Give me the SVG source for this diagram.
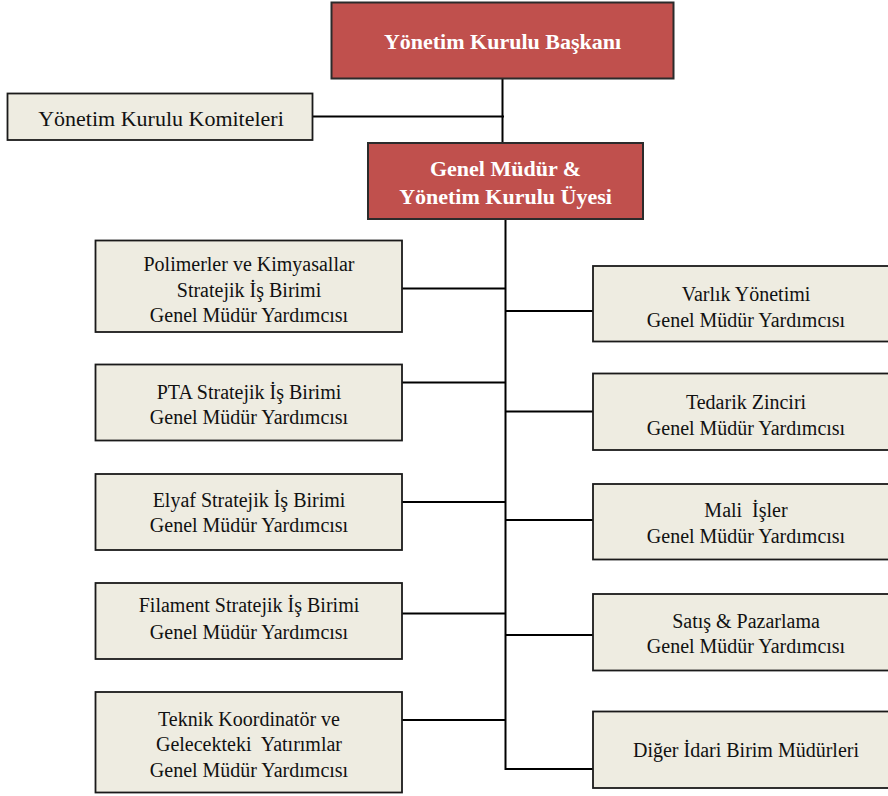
<svg xmlns="http://www.w3.org/2000/svg" width="888" height="796" viewBox="0 0 888 796">
<style>
.red{fill:#C0504D;stroke:#2b2b2b;stroke-width:2}
.box{fill:#EEECE1;stroke:#1a1a1a;stroke-width:1.8}
.t{font-family:'Liberation Serif','Times New Roman',serif;font-size:20px;fill:#111;text-anchor:middle;dominant-baseline:central}
.tb{font-family:'Liberation Serif','Times New Roman',serif;font-size:22px;font-weight:bold;fill:#fff;text-anchor:middle;dominant-baseline:central}
.ln{stroke:#000;stroke-width:2;fill:none}
</style>
<rect width="888" height="796" fill="#fff"/>
<g id="connectors">
<line class="ln" x1="502.5" y1="78" x2="502.5" y2="143"/>
<line class="ln" x1="313" y1="116.5" x2="504" y2="116.5"/>
<line class="ln" x1="505.5" y1="219" x2="505.5" y2="770"/>
<line class="ln" x1="402" y1="288.5" x2="505" y2="288.5"/>
<line class="ln" x1="402" y1="382.5" x2="505" y2="382.5"/>
<line class="ln" x1="402" y1="502" x2="505" y2="502"/>
<line class="ln" x1="402" y1="613.5" x2="505" y2="613.5"/>
<line class="ln" x1="402" y1="720" x2="505" y2="720"/>
<line class="ln" x1="505" y1="311" x2="593" y2="311"/>
<line class="ln" x1="505" y1="411.5" x2="593" y2="411.5"/>
<line class="ln" x1="505" y1="520" x2="593" y2="520"/>
<line class="ln" x1="505" y1="635" x2="593" y2="635"/>
<line class="ln" x1="505" y1="769" x2="593" y2="769"/>
</g>
<g id="baskan">
<rect class="red" x="331.5" y="2.5" width="342" height="76"/>
<text class="tb" x="502.5" y="41">Yönetim Kurulu Başkanı</text>
</g>
<g id="komiteler">
<rect class="box" x="7.5" y="93.5" width="305" height="46.5"/>
<text class="t" x="161" y="118" style="font-size:22px">Yönetim Kurulu Komiteleri</text>
</g>
<g id="genel-mudur">
<rect class="red" x="368" y="143" width="275" height="76"/>
<text class="tb" x="505.5" y="168">Genel Müdür &amp;</text>
<text class="tb" x="505.5" y="196">Yönetim Kurulu Üyesi</text>
</g>
<g id="polimerler">
<rect class="box" x="95.5" y="240.5" width="306.5" height="91.5"/>
<text class="t" x="249" y="263.5">Polimerler ve Kimyasallar</text>
<text class="t" x="249" y="290">Stratejik İş Birimi</text>
<text class="t" x="249" y="315">Genel Müdür Yardımcısı</text>
</g>
<g id="pta">
<rect class="box" x="95.5" y="364.5" width="306.5" height="76"/>
<text class="t" x="249" y="391.5">PTA Stratejik İş Birimi</text>
<text class="t" x="249" y="416.5">Genel Müdür Yardımcısı</text>
</g>
<g id="elyaf">
<rect class="box" x="95.5" y="474" width="306.5" height="76"/>
<text class="t" x="249" y="500">Elyaf Stratejik İş Birimi</text>
<text class="t" x="249" y="525">Genel Müdür Yardımcısı</text>
</g>
<g id="filament">
<rect class="box" x="95.5" y="583" width="306.5" height="76"/>
<text class="t" x="249" y="605">Filament Stratejik İş Birimi</text>
<text class="t" x="249" y="631.5">Genel Müdür Yardımcısı</text>
</g>
<g id="teknik">
<rect class="box" x="95.5" y="692" width="306.5" height="100.5"/>
<text class="t" x="249" y="719" xml:space="preserve">Teknik Koordinatör ve</text>
<text class="t" x="249" y="744" xml:space="preserve">Gelecekteki  Yatırımlar</text>
<text class="t" x="249" y="769.5">Genel Müdür Yardımcısı</text>
</g>
<g id="varlik">
<rect class="box" x="593" y="266" width="300" height="75.5"/>
<text class="t" x="746" y="293.5">Varlık Yönetimi</text>
<text class="t" x="746" y="319.5">Genel Müdür Yardımcısı</text>
</g>
<g id="tedarik">
<rect class="box" x="593" y="373.5" width="300" height="76.5"/>
<text class="t" x="746" y="401.5">Tedarik Zinciri</text>
<text class="t" x="746" y="428">Genel Müdür Yardımcısı</text>
</g>
<g id="mali">
<rect class="box" x="593" y="484" width="300" height="75.5"/>
<text class="t" x="746" y="510" xml:space="preserve">Mali  İşler</text>
<text class="t" x="746" y="535.5">Genel Müdür Yardımcısı</text>
</g>
<g id="satis">
<rect class="box" x="593" y="594" width="300" height="76.5"/>
<text class="t" x="746" y="621">Satış &amp; Pazarlama</text>
<text class="t" x="746" y="645.5">Genel Müdür Yardımcısı</text>
</g>
<g id="diger">
<rect class="box" x="593" y="711.5" width="300" height="76.5"/>
<text class="t" x="746" y="750">Diğer İdari Birim Müdürleri</text>
</g>
</svg>
